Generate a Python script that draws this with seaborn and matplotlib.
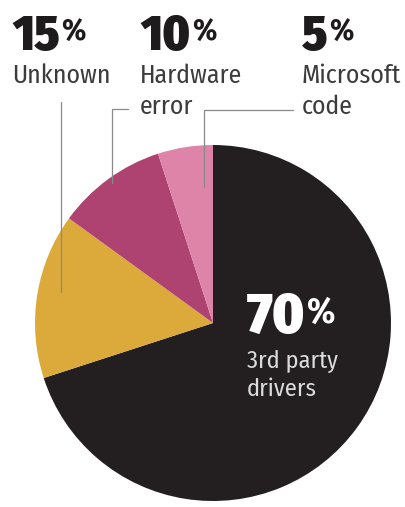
import matplotlib
matplotlib.use("Agg")
import matplotlib.pyplot as plt
import seaborn as sns

# crash causes, share of total (%)
shares = [70, 15, 10, 5]
names = ["3rd party\ndrivers", "Unknown", "Hardware\nerror", "Microsoft\ncode"]
colors = ["#231f20", "#dcaa3a", "#ae4372", "#df84a9"]

W, H = 406, 507

sns.set_theme(style="white")
plt.rcParams["font.family"] = ["Fira Sans Condensed", "Roboto Condensed", "DejaVu Sans"]
NUM_FONT = ["Fira Sans Condensed", "Roboto Condensed", "DejaVu Sans"]


def fy(y):
    # picture rows run downward, axes run upward
    return H - y


fig = plt.figure(figsize=(W / 100, H / 100), dpi=100)
ax = fig.add_axes([0, 0, 1, 1])

ax.pie(
    shares,
    colors=colors,
    startangle=90,
    counterclock=False,
    center=(213, fy(323)),
    radius=178,
    wedgeprops=dict(linewidth=0),
)
ax.set_xlim(0, W)
ax.set_ylim(0, H)
ax.set_aspect("equal")
ax.axis("off")

# leader lines from the labels down into the small slices
leaders = [
    ([61, 61], [102, 292]),
    ([128, 112, 112], [109, 109, 183]),
    ([293, 204, 204], [110, 110, 187]),
]
for xs, ys in leaders:
    ax.plot(xs, [fy(v) for v in ys], color="#8a8a8a", lw=0.9)

# label placement: left edge, baseline of the big number, baseline of first name line
label_x = [247, 12, 140, 302]
pct_base = [333, 50, 50, 50]
name_base = [368, 83, 83, 83]
pct_size = [42, 36, 36, 36]
name_size = [17.5, 18.5, 18.5, 18.5]
inside = [True, False, False, False]

for share, name, x, pb, nb, ps, ns, ins in zip(shares, names, label_x, pct_base,
                                                name_base, pct_size, name_size, inside):
    pct_color = "white" if ins else "#1e1b1c"
    name_color = "#dcdcdc" if ins else "#3c3c3c"
    num = ax.text(x, fy(pb), str(share), fontsize=ps, fontweight=900,
                  family=NUM_FONT, color=pct_color, ha="left", va="baseline")
    ax.annotate("%", xy=(1, 1), xycoords=num, xytext=(1, -5),
                textcoords="offset points", fontsize=ps * 0.62,
                fontweight="bold", family=NUM_FONT, color=pct_color,
                ha="left", va="top")
    gap = 28 if ins else 31
    for i, line in enumerate(name.split("\n")):
        ax.text(x, fy(nb + i * gap), line, fontsize=ns, color=name_color,
                ha="left", va="baseline")

fig.savefig("out.png", dpi=100, facecolor="white")
